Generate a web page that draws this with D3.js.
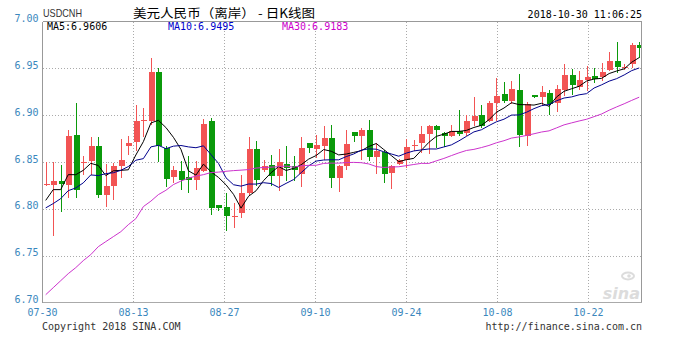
<!DOCTYPE html>
<html><head><meta charset="utf-8">
<script src="https://cdn.jsdelivr.net/npm/d3@7"></script>
<style>
html,body{margin:0;padding:0;background:#fff;}
svg{display:block;}
</style></head>
<body>
<svg id="chart" width="678" height="347"></svg>
<script>
// ---------------- data ----------------
const dates = [
 "07-30","07-31","08-01","08-02","08-03","08-04",
 "08-06","08-07","08-08","08-09","08-10","08-11",
 "08-13","08-14","08-15","08-16","08-17","08-18",
 "08-20","08-21","08-22","08-23","08-24","08-25",
 "08-27","08-28","08-29","08-30","08-31","09-01",
 "09-03","09-04","09-05","09-06","09-07","09-08",
 "09-10","09-11","09-12","09-13","09-14","09-15",
 "09-17","09-18","09-19","09-20","09-21","09-22",
 "09-24","09-25","09-26","09-27","09-28","09-29",
 "10-01","10-02","10-03","10-04","10-05","10-06",
 "10-08","10-09","10-10","10-11","10-12","10-13",
 "10-15","10-16","10-17","10-18","10-19","10-20",
 "10-22","10-23","10-24","10-25","10-26","10-27",
 "10-29","10-30"];
const open = [
 6.8266,6.8259,6.8294,6.8259,6.8793,6.8486,
 6.8507,6.8675,6.8152,6.8240,6.8454,6.8675,
 6.8715,6.8935,6.8942,6.9458,6.8651,6.8337,
 6.8408,6.8337,6.8305,6.8401,6.8935,6.8045,
 6.8016,6.7920,6.7956,6.8170,6.8643,6.8419,
 6.8472,6.8347,6.8480,6.8454,6.8376,6.8704,
 6.8643,6.8675,6.8757,6.8330,6.8454,6.8822,
 6.8775,6.8846,6.8555,6.8604,6.8383,6.8483,
 6.8526,6.8675,6.8704,6.8800,6.8881,6.8811,
 6.8782,6.8835,6.8811,6.8935,6.9006,6.8942,
 6.9131,6.9231,6.9156,6.9274,6.8775,6.9213,
 6.9191,6.9238,6.9131,6.9274,6.9426,6.9298,
 6.9373,6.9423,6.9409,6.9480,6.9583,6.9505,
 6.9541,6.9744];
const high = [
 6.8497,6.8497,6.8472,6.8839,6.9131,6.8568,
 6.8768,6.8768,6.8480,6.8490,6.8747,6.8782,
 6.9113,6.9078,6.9612,6.9505,6.8675,6.8462,
 6.8507,6.8561,6.8507,6.8960,6.8971,6.8045,
 6.8170,6.8063,6.8365,6.8768,6.8729,6.8526,
 6.8579,6.8640,6.8668,6.8568,6.8768,6.8704,
 6.8793,6.8889,6.8900,6.8472,6.8839,6.8822,
 6.8864,6.8946,6.8704,6.8632,6.8472,6.8533,
 6.8750,6.8739,6.8889,6.8896,6.8900,6.8817,
 6.8900,6.9060,6.9006,6.9191,6.9113,6.9148,
 6.9399,6.9359,6.9362,6.9444,6.9145,6.9220,
 6.9309,6.9274,6.9319,6.9541,6.9495,6.9469,
 6.9522,6.9505,6.9559,6.9676,6.9783,6.9548,
 6.9772,6.9783];
const low = [
 6.8240,6.7706,6.7963,6.8116,6.8116,6.8365,
 6.8365,6.8116,6.8020,6.8098,6.8330,6.8576,
 6.8622,6.8768,6.8900,6.8497,6.8234,6.8277,
 6.8205,6.8170,6.8205,6.8390,6.7938,6.7973,
 6.7760,6.7796,6.7903,6.8152,6.8248,6.8390,
 6.8248,6.8187,6.8294,6.8294,6.8234,6.8597,
 6.8544,6.8526,6.8223,6.8176,6.8419,6.8710,
 6.8518,6.8507,6.8376,6.8277,6.8213,6.8472,
 6.8437,6.8614,6.8597,6.8587,6.8651,6.8661,
 6.8768,6.8782,6.8775,6.8881,6.8864,6.8924,
 6.8935,6.9131,6.9124,6.8661,6.8675,6.9185,
 6.9095,6.9006,6.9035,6.9202,6.9220,6.9274,
 6.9255,6.9345,6.9362,6.9469,6.9452,6.9480,
 6.9505,6.9612];
const close = [
 6.8268,6.8301,6.8266,6.8782,6.8205,6.8501,
 6.8675,6.8152,6.8240,6.8462,6.8526,6.8704,
 6.8942,6.8953,6.9458,6.8668,6.8319,6.8419,
 6.8312,6.8312,6.8437,6.8907,6.8010,6.8010,
 6.7920,6.7927,6.8170,6.8643,6.8305,6.8462,
 6.8347,6.8497,6.8437,6.8419,6.8651,6.8651,
 6.8686,6.8757,6.8330,6.8454,6.8697,6.8775,
 6.8846,6.8555,6.8614,6.8376,6.8454,6.8518,
 6.8661,6.8686,6.8803,6.8881,6.8839,6.8775,
 6.8835,6.8803,6.8935,6.8996,6.8889,6.9131,
 6.9209,6.9156,6.9281,6.8787,6.9124,6.9191,
 6.9249,6.9124,6.9284,6.9426,6.9327,6.9380,
 6.9405,6.9391,6.9463,6.9583,6.9516,6.9519,
 6.9744,6.9712];
// moving-average values for the first bars (earlier closes are not shown)
const ma5Seed  = [6.8090,6.8205,6.8205,6.8365];
const ma10Seed = [6.8010,6.8056,6.8109,6.8194,6.8223,6.8277,6.8362,6.8355,6.8376];
const ma30Seed = [6.7083,6.7158,6.7233,6.7308,6.7372,6.7447,6.7511,6.7596,6.7650,6.7703,
                  6.7756,6.7831,6.7895,6.8024,6.8082,6.8152,6.8198,6.8259,6.8296,6.8328,
                  6.8349,6.8365,6.8387,6.8392,6.8401,6.8408,6.8413,6.8419,6.8435];
const yTicks = [6.70,6.75,6.80,6.85,6.90,6.95,7.00];
const xTickLabels = ["07-30","08-13","08-27","09-10","09-24","10-08","10-22"];
const symbol = "USDCNH";
const title = "美元人民币（离岸） - 日K线图";
const timestamp = "2018-10-30 11:06:25";
const maLabels = ["MA5:6.9606","MA10:6.9495","MA30:6.9183"];
const footerLeft = "Copyright 2018 SINA.COM";
const footerRight = "http://finance.sina.com.cn";

// ---------------- layout ----------------
const L = 42.5, R = 641.5, T = 21.5, B = 302.5;
const RED = "#f25454", GREEN = "#0b9a0b";
const MA_COL = ["#000000", "#00008c", "#cc33cc"];
const MA_TXT = ["#000000", "#0000cc", "#cc00cc"];
const AXIS_COL = "#3a87bd";
const MONO = "'DejaVu Sans Mono', 'Liberation Mono', monospace";

const svg = d3.select("#chart");
const y = d3.scaleLinear().domain([6.70, 7.00]).range([B, T]);
const xc = d3.scaleLinear().domain([0, dates.length - 1]).range([45.7, 639.2]);
const xa = d3.scaleLinear().domain([0, dates.length - 1]).range([L, R]);

svg.append("defs").append("clipPath").attr("id", "plotclip")
  .append("rect").attr("x", L).attr("y", T).attr("width", R - L).attr("height", B - T);

// grid
const grid = svg.append("g").attr("shape-rendering", "crispEdges");
grid.selectAll("line.h").data(yTicks.filter(v => v > 6.70 && v < 7.00)).join("line")
  .attr("x1", L).attr("x2", R)
  .attr("y1", d => Math.round(y(d)) + 0.5).attr("y2", d => Math.round(y(d)) + 0.5)
  .attr("stroke", "#aaa").attr("stroke-dasharray", "1,2");
const tickIdx = xTickLabels.map(t => dates.indexOf(t));
grid.selectAll("line.v").data(tickIdx.filter(i => i > 0)).join("line")
  .attr("x1", d => Math.round(xa(d)) + 0.5).attr("x2", d => Math.round(xa(d)) + 0.5)
  .attr("y1", T).attr("y2", B)
  .attr("stroke", "#aaa").attr("stroke-dasharray", "1,2");

// candles
const data = dates.map((d, i) => ({ d, i, o: open[i], h: high[i], l: low[i], c: close[i] }));
const isUp = d => d.c >= d.o;
const cg = svg.append("g").attr("clip-path", "url(#plotclip)").attr("shape-rendering", "crispEdges");
cg.selectAll("line.wick").data(data).join("line")
  .attr("x1", d => Math.round(xc(d.i)) + 0.5).attr("x2", d => Math.round(xc(d.i)) + 0.5)
  .attr("y1", d => Math.round(y(d.h))).attr("y2", d => Math.round(y(d.l)))
  .attr("stroke", d => isUp(d) ? RED : GREEN).attr("stroke-width", 1);
cg.selectAll("rect.body").data(data).join("rect")
  .attr("x", d => Math.round(xc(d.i)) - 2)
  .attr("width", 6)
  .attr("y", d => Math.round(y(Math.max(d.o, d.c))))
  .attr("height", d => Math.max(1, Math.round(y(Math.min(d.o, d.c))) - Math.round(y(Math.max(d.o, d.c)))))
  .attr("fill", d => isUp(d) ? RED : GREEN);

// moving averages
function movingAvg(n, seed) {
  return close.map((c, i) => i < n - 1 ? seed[i] : d3.mean(close.slice(i - n + 1, i + 1)));
}
const mas = [movingAvg(5, ma5Seed), movingAvg(10, ma10Seed), movingAvg(30, ma30Seed)];
const line = d3.line().x((v, i) => xc(i)).y(v => y(v));
const mg = svg.append("g").attr("clip-path", "url(#plotclip)");
mas.forEach((s, k) => {
  mg.append("path").attr("d", line(s)).attr("fill", "none")
    .attr("stroke", MA_COL[k]).attr("stroke-width", 1);
});

// borders
const bg = svg.append("g").attr("shape-rendering", "crispEdges");
bg.append("line").attr("x1", L).attr("x2", R).attr("y1", T).attr("y2", T).attr("stroke", "#999");
bg.append("line").attr("x1", L).attr("x2", L).attr("y1", T).attr("y2", B).attr("stroke", "#999");
bg.append("line").attr("x1", R).attr("x2", R).attr("y1", T).attr("y2", B).attr("stroke", "#999");
bg.append("line").attr("x1", L).attr("x2", R).attr("y1", B).attr("y2", B).attr("stroke", "#aaa");

// watermark
const wm = svg.append("g").attr("fill", "#dcdcdc");
wm.append("text").attr("x", 640).attr("y", 299).attr("text-anchor", "end")
  .attr("font-family", "'DejaVu Sans', sans-serif").attr("font-style", "italic").attr("font-weight", "bold")
  .attr("font-size", 16).text("sina");
wm.append("ellipse").attr("cx", 628).attr("cy", 276).attr("rx", 6).attr("ry", 3.5)
  .attr("fill", "none").attr("stroke", "#dcdcdc").attr("stroke-width", 2);
wm.append("circle").attr("cx", 629).attr("cy", 276).attr("r", 1.8);

// y labels
svg.append("g").selectAll("text").data(yTicks).join("text")
  .attr("x", 38.5).attr("y", d => y(d) + 0.5).attr("text-anchor", "end")
  .attr("font-family", MONO).attr("font-size", 10).attr("fill", AXIS_COL)
  .text(d => d3.format(".2f")(d));

// x labels
svg.append("g").selectAll("text").data(tickIdx).join("text")
  .attr("x", d => xa(d)).attr("y", 316).attr("text-anchor", "middle")
  .attr("font-family", MONO).attr("font-size", 10).attr("fill", AXIS_COL)
  .text((d, i) => xTickLabels[i]);

// header
svg.append("text").attr("x", 43).attr("y", 17)
  .attr("font-family", "'Liberation Sans Narrow', 'Liberation Sans', sans-serif").attr("font-size", 11)
  .attr("fill", "#333").attr("textLength", 39).attr("lengthAdjust", "spacingAndGlyphs").text(symbol);
svg.append("text").attr("x", 133).attr("y", 18)
  .attr("font-family", "'Noto Sans CJK SC', sans-serif").attr("font-size", 12.5)
  .attr("fill", "#000").attr("textLength", 182).attr("lengthAdjust", "spacingAndGlyphs").text(title);
svg.append("text").attr("x", 642).attr("y", 18).attr("text-anchor", "end")
  .attr("font-family", MONO).attr("font-size", 10).attr("fill", "#000").text(timestamp);

const maX = [47, 168, 282];
svg.append("g").selectAll("text").data(maLabels).join("text")
  .attr("x", (d, i) => maX[i]).attr("y", 30)
  .attr("font-family", MONO).attr("font-size", 10)
  .attr("fill", (d, i) => MA_TXT[i]).text(d => d);

// footer
svg.append("text").attr("x", 42).attr("y", 330)
  .attr("font-family", MONO).attr("font-size", 10).attr("fill", "#333").text(footerLeft);
svg.append("text").attr("x", 642).attr("y", 330).attr("text-anchor", "end")
  .attr("font-family", MONO).attr("font-size", 10).attr("fill", "#333").text(footerRight);
</script>
</body></html>
